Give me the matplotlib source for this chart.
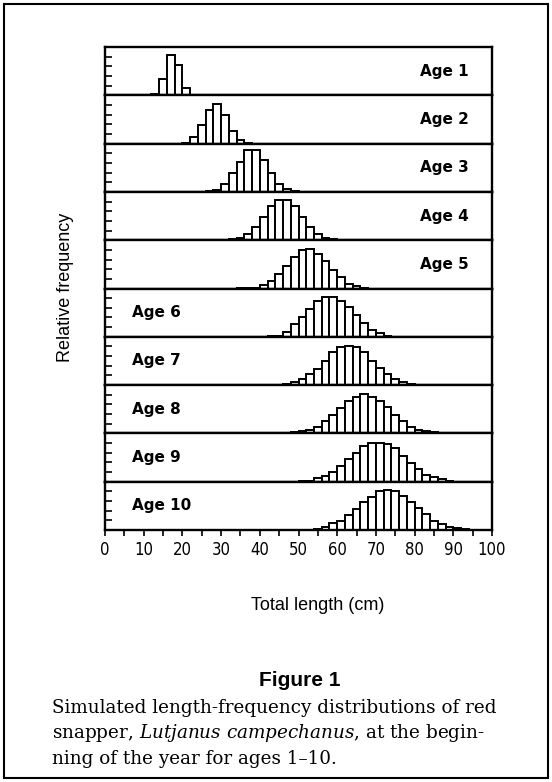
import numpy as np
import matplotlib
matplotlib.use("Agg")
import matplotlib.pyplot as plt
from matplotlib.patches import Rectangle

plt.rcParams['mathtext.fontset'] = 'custom'
plt.rcParams['mathtext.rm'] = 'DejaVu Serif'
plt.rcParams['mathtext.it'] = 'DejaVu Serif:italic'

BIN_W = 2  # cm

ages = [1, 2, 3, 4, 5, 6, 7, 8, 9, 10]
first_bin = [12, 20, 26, 30, 34, 42, 42, 46, 50, 52]

# relative frequency per 2-cm bin (scaled to panel height)
age1 = [0.02, 0.33, 0.84, 0.63, 0.15]
age2 = [0.02, 0.13, 0.38, 0.70, 0.82, 0.60, 0.27, 0.08, 0.02]
age3 = [0.01, 0.03, 0.17, 0.39, 0.62, 0.86, 0.86, 0.66, 0.39, 0.17, 0.06, 0.02]
age4 = [0.01, 0.02, 0.05, 0.13, 0.28, 0.48, 0.70, 0.84, 0.84, 0.70, 0.48, 0.28,
        0.13, 0.05, 0.02]
age5 = [0.01, 0.01, 0.02, 0.07, 0.16, 0.31, 0.47, 0.66, 0.79, 0.81, 0.72, 0.57,
        0.38, 0.24, 0.10, 0.05, 0.02]
age6 = [0.01, 0.02, 0.10, 0.26, 0.41, 0.57, 0.74, 0.83, 0.83, 0.74, 0.62, 0.45,
        0.28, 0.14, 0.07, 0.02]
age7 = [0.01, 0.01, 0.02, 0.07, 0.12, 0.23, 0.34, 0.50, 0.68, 0.79, 0.81, 0.79,
        0.68, 0.50, 0.36, 0.23, 0.12, 0.07, 0.02]
age8 = [0.01, 0.02, 0.05, 0.08, 0.14, 0.26, 0.38, 0.53, 0.67, 0.76, 0.81, 0.76,
        0.67, 0.55, 0.39, 0.26, 0.14, 0.08, 0.05, 0.02]
age9 = [0.01, 0.02, 0.07, 0.12, 0.21, 0.32, 0.46, 0.60, 0.73, 0.80, 0.81, 0.78,
        0.69, 0.54, 0.39, 0.26, 0.14, 0.09, 0.05, 0.02]
age10 = [0.01, 0.02, 0.07, 0.14, 0.19, 0.31, 0.43, 0.57, 0.69, 0.80, 0.83, 0.80,
         0.71, 0.59, 0.45, 0.33, 0.19, 0.12, 0.07, 0.04, 0.02, 0.01]

freqs = [age1, age2, age3, age4, age5, age6, age7, age8, age9, age10]

W, H = 552, 782
fig, axes = plt.subplots(10, 1, sharex=True, figsize=(W / 100, H / 100), dpi=100,
                         gridspec_kw=dict(hspace=0))
plt.subplots_adjust(left=105 / W, right=492 / W, top=1 - 47 / H, bottom=1 - 530 / H)

for i, ax in enumerate(axes):
    f = np.array(freqs[i])
    edges = first_bin[i] + BIN_W * np.arange(len(f))
    ax.bar(edges, f, width=BIN_W, align='edge', color='white',
           edgecolor='black', linewidth=1.4)
    ax.set_xlim(0, 100)
    ax.set_ylim(0, 1)
    ax.set_yticks([0.2, 0.4, 0.6, 0.8])
    ax.tick_params(axis='y', direction='in', length=5, width=1.2, labelleft=False)
    for s in ax.spines.values():
        s.set_linewidth(1.7)
    if ages[i] <= 5:
        ax.text(94, 0.5, f"Age {ages[i]}", ha='right', va='center',
                fontsize=11, fontweight='bold', family='DejaVu Sans')
    else:
        ax.text(7, 0.5, f"Age {ages[i]}", ha='left', va='center',
                fontsize=11, fontweight='bold', family='DejaVu Sans')
    if i < 9:
        ax.tick_params(axis='x', bottom=False, labelbottom=False)

bx = axes[-1]
bx.set_xticks(np.arange(0, 101, 10))
bx.set_xticks(np.arange(5, 100, 10), minor=True)
bx.tick_params(axis='x', which='both', direction='out', length=4, width=1.2, pad=4)
for lab in bx.get_xticklabels():
    lab.set_family('DejaVu Sans')
    lab.set_fontstretch('condensed')
    lab.set_fontsize(12)

def fx(x):
    return x / W

def fy(y):
    return 1 - y / H

fig.text(fx(65), fy(287), "Relative frequency", rotation=90, ha='center',
         va='center', fontsize=13, family='Liberation Sans')
fig.text(fx(318), fy(605), "Total length (cm)", ha='center', va='center',
         fontsize=13, family='Liberation Sans')
fig.text(fx(300), fy(681), "Figure 1", ha='center', va='center',
         fontsize=15, fontweight='bold', family='Liberation Sans')

cap_kw = dict(ha='left', va='center', fontsize=13.2, family='DejaVu Serif')
fig.text(fx(52), fy(708), "Simulated length-frequency distributions of red", **cap_kw)
fig.text(fx(52), fy(733), r"snapper, $Lutjanus\ campechanus$, at the begin-", **cap_kw)
fig.text(fx(52), fy(759), "ning of the year for ages 1\u201310.", **cap_kw)

fig.patches.append(Rectangle((fx(4), fy(778)), fx(544), 774 / H, fill=False,
                             edgecolor='black', linewidth=1.5,
                             transform=fig.transFigure, figure=fig))

fig.savefig("out.png", dpi=100)
